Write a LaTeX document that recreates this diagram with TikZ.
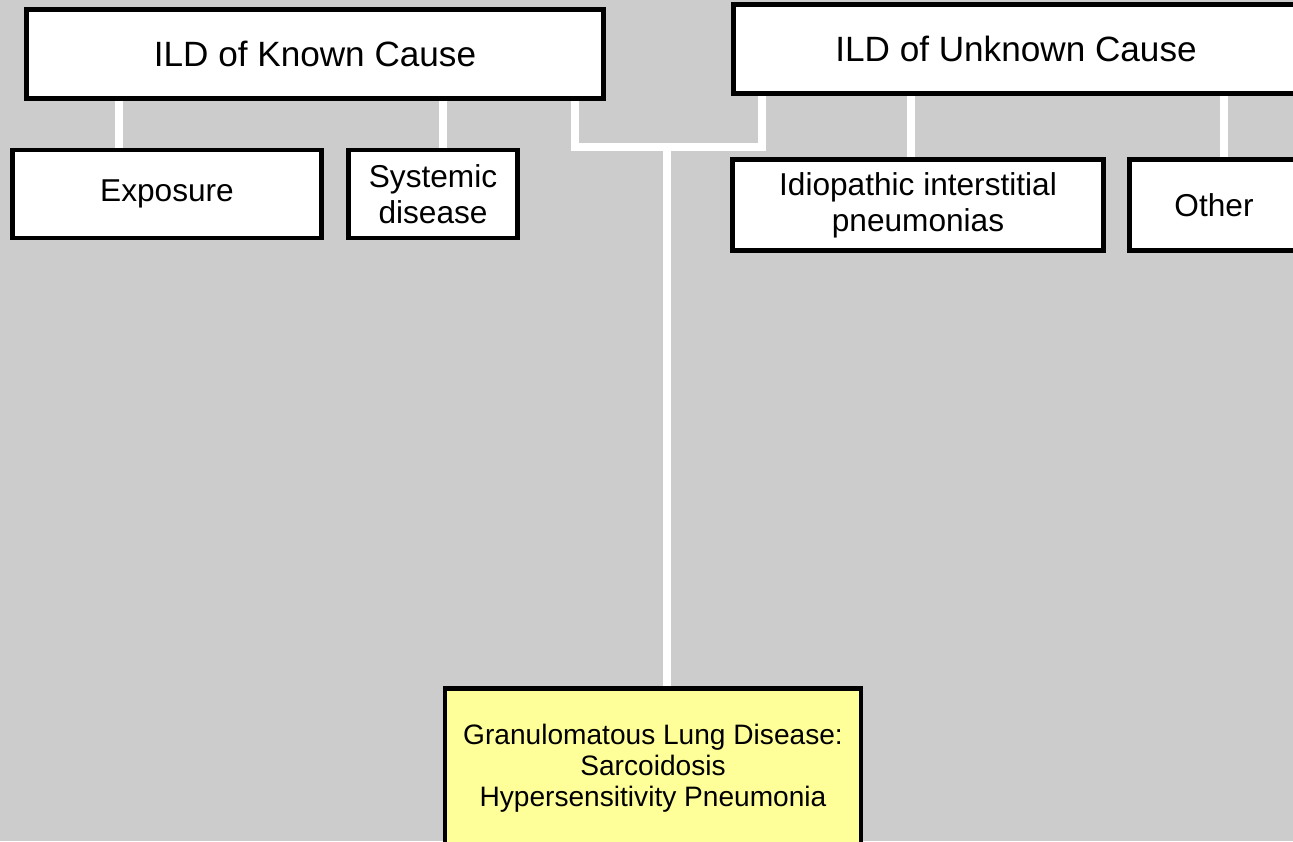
\documentclass[tikz,border=0pt]{standalone}
\usepackage{fontspec}
\setmainfont{Liberation Sans}
\usetikzlibrary{positioning}
\definecolor{bggray}{HTML}{CCCCCC}
\definecolor{paleyellow}{HTML}{FFFF99}
\tikzset{
  catbox/.style={draw=black, line width=2.8pt, fill=white, align=center,
    font=\fontsize{20}{21}\selectfont, inner sep=0pt},
  subbox/.style={catbox, font=\fontsize{18}{20.5}\selectfont},
  hilite/.style={catbox, fill=paleyellow, font=\fontsize{16}{17.6}\selectfont},
  link/.style={draw=white, line width=4.5pt, line join=miter}
}
\begin{document}
\begin{tikzpicture}[x=0.02cm, y=-0.02cm]
    \fill[bggray] (0,0) rectangle (1293,841);
    \useasboundingbox (0,0) rectangle (1293,841);
    \clip (0,0) rectangle (1293,841);
    % category boxes
    \node[catbox, minimum width=577*0.02cm, minimum height=89*0.02cm] (known) at (315,54) {ILD of Known Cause};
    \node[catbox, minimum width=565*0.02cm, minimum height=89*0.02cm] (unknown) at (1016,49) {ILD of Unknown Cause};
    \node[subbox, minimum width=309*0.02cm, minimum height=88*0.02cm] (expo) at (167,194) {Exposure};
    \node[subbox, minimum width=169*0.02cm, minimum height=88*0.02cm] (sysdis) at (433,194) {Systemic\\disease};
    \node[subbox, minimum width=371*0.02cm, minimum height=91*0.02cm] (iip) at (918,205) {Idiopathic interstitial\\pneumonias};
    \node[subbox, minimum width=169*0.02cm, minimum height=91*0.02cm] (other) at (1214,205) {Other};
    \node[hilite, minimum width=416*0.02cm, minimum height=159*0.02cm] (granu) at (653,768) {Granulomatous Lung Disease:\\Sarcoidosis\\Hypersensitivity Pneumonia};
    % connector points
    \coordinate (kexpo) at (119,0);
    \coordinate (ksys) at (443,0);
    \coordinate (kjoin) at (575,147);
    \coordinate (ujoin) at (762,147);
    \coordinate (trunk) at (667,147);
    \coordinate (uiip) at (911,0);
    \coordinate (uoth) at (1224,0);
    % connectors
    \draw[link] (kexpo |- known.south) -- (kexpo |- expo.north);
    \draw[link] (ksys |- known.south) -- (ksys |- sysdis.north);
    \draw[link] (uiip |- unknown.south) -- (uiip |- iip.north);
    \draw[link] (uoth |- unknown.south) -- (uoth |- other.north);
    \draw[link] (kjoin |- known.south) -- (kjoin) -- (ujoin) -- (ujoin |- unknown.south);
    \draw[link] (trunk) -- (trunk |- granu.north);
\end{tikzpicture}
\end{document}
